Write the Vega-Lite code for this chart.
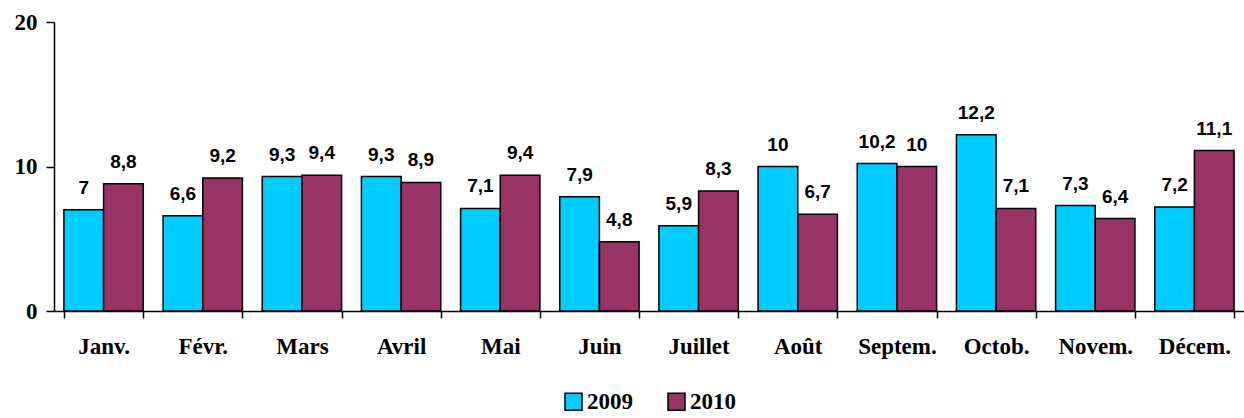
{
  "$schema": "https://vega.github.io/schema/vega-lite/v6.json",
  "width": 1190,
  "height": 289,
  "autosize": {"type": "none"},
  "padding": {"left": 54, "top": 22, "right": 0, "bottom": 107},
  "background": "white",
  "data": {"values": [
    {"mois": "Janv.", "annee": "2009", "valeur": 7},
    {"mois": "Janv.", "annee": "2010", "valeur": 8.8},
    {"mois": "Févr.", "annee": "2009", "valeur": 6.6},
    {"mois": "Févr.", "annee": "2010", "valeur": 9.2},
    {"mois": "Mars", "annee": "2009", "valeur": 9.3},
    {"mois": "Mars", "annee": "2010", "valeur": 9.4},
    {"mois": "Avril", "annee": "2009", "valeur": 9.3},
    {"mois": "Avril", "annee": "2010", "valeur": 8.9},
    {"mois": "Mai", "annee": "2009", "valeur": 7.1},
    {"mois": "Mai", "annee": "2010", "valeur": 9.4},
    {"mois": "Juin", "annee": "2009", "valeur": 7.9},
    {"mois": "Juin", "annee": "2010", "valeur": 4.8},
    {"mois": "Juillet", "annee": "2009", "valeur": 5.9},
    {"mois": "Juillet", "annee": "2010", "valeur": 8.3},
    {"mois": "Août", "annee": "2009", "valeur": 10},
    {"mois": "Août", "annee": "2010", "valeur": 6.7},
    {"mois": "Septem.", "annee": "2009", "valeur": 10.2},
    {"mois": "Septem.", "annee": "2010", "valeur": 10},
    {"mois": "Octob.", "annee": "2009", "valeur": 12.2},
    {"mois": "Octob.", "annee": "2010", "valeur": 7.1},
    {"mois": "Novem.", "annee": "2009", "valeur": 7.3},
    {"mois": "Novem.", "annee": "2010", "valeur": 6.4},
    {"mois": "Décem.", "annee": "2009", "valeur": 7.2},
    {"mois": "Décem.", "annee": "2010", "valeur": 11.1}
  ]},
  "encoding": {
    "x": {
      "field": "mois", "type": "nominal", "sort": null,
      "scale": {"paddingInner": 0.2, "paddingOuter": 0.1},
      "axis": {
        "title": null, "labelAngle": 0,
        "labelFont": "Liberation Serif", "labelFontWeight": "bold", "labelFontSize": 23, "labelColor": "black",
        "domainColor": "black", "domainWidth": 1.5,
        "tickColor": "black", "tickWidth": 1.5, "tickSize": 7, "tickBand": "extent",
        "labelPadding": 17
      }
    },
    "xOffset": {"field": "annee", "type": "nominal"},
    "y": {
      "field": "valeur", "type": "quantitative",
      "scale": {"domain": [0, 20]},
      "axis": {
        "title": null, "values": [0, 10, 20], "grid": false,
        "labelFont": "Liberation Serif", "labelFontWeight": "bold", "labelFontSize": 23, "labelColor": "black",
        "domainColor": "black", "domainWidth": 1.5,
        "tickColor": "black", "tickWidth": 1.5, "tickSize": 8, "labelPadding": 9
      }
    }
  },
  "layer": [
    {
      "mark": {"type": "bar", "stroke": "black", "strokeWidth": 1.5},
      "encoding": {
        "color": {
          "field": "annee", "type": "nominal",
          "scale": {"domain": ["2009", "2010"], "range": ["#00CCFF", "#993366"]},
          "legend": {
            "title": null, "orient": "bottom", "direction": "horizontal",
            "symbolType": "square", "symbolSize": 289, "symbolStrokeColor": "black", "symbolStrokeWidth": 1.5,
            "labelFont": "Liberation Serif", "labelFontWeight": "bold", "labelFontSize": 23, "labelColor": "black",
            "labelOffset": 2, "columnPadding": 32, "offset": 32
          }
        }
      }
    },
    {
      "mark": {"type": "text", "baseline": "bottom", "dy": -12, "font": "Liberation Sans", "fontWeight": "bold", "fontSize": 19, "color": "black"},
      "encoding": {
        "text": {"field": "valeur", "type": "quantitative", "format": ".1~f"}
      }
    }
  ],
  "config": {
    "view": {"stroke": null},
    "locale": {"number": {"decimal": ",", "thousands": " ", "grouping": [3], "currency": ["", " €"]}},
    "legend": {"layout": {"bottom": {"anchor": "middle"}}}
  }
}
